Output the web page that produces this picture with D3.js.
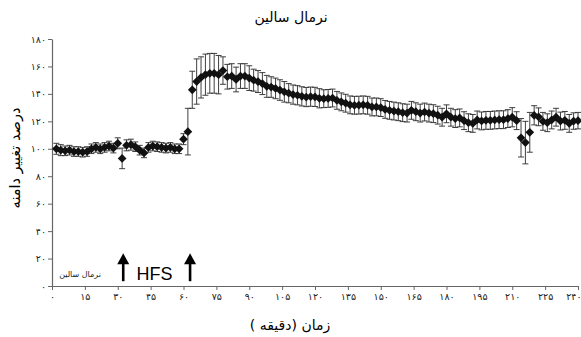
<!DOCTYPE html>
<html>
<head>
<meta charset="utf-8">
<script src="https://cdn.jsdelivr.net/npm/d3@7.9.0/dist/d3.min.js"></script>
<style>
  body { margin: 0; background: #fff; }
  svg { display: block; font-family: "DejaVu Sans", sans-serif; }
</style>
</head>
<body>
<div id="chart"></div>
<script>
// time (min) of each recording
const minutes = [2,4,6,8,10,12,14,16,18,20,22,24,26,28,30,32,34,36,38,40,
  42,44,46,48,50,52,54,56,58,60,62,64,66,68,70,72,74,76,78,80,
  82,84,86,88,90,92,94,96,98,100,102,104,106,108,110,112,114,116,118,120,
  122,124,126,128,130,132,134,136,138,140,142,144,146,148,150,152,154,156,158,160,
  162,164,166,168,170,172,174,176,178,180,182,184,186,188,190,192,194,196,198,200,
  202,204,206,208,210,212,214,216,218,220,222,224,226,228,230,232,234,236,238,240];

// % change of amplitude
const values = [100,99,98.5,99,98,98,97.5,98,100,101,
  100,101,102,100.5,104,93,102.5,103,101.5,99,
  97,101,102,101.5,101,100.5,101,100,100,
  107,112.5,143,149,152,154,155,155,154,157,
  152.5,153,150.5,153,153,151.5,150,149,147.5,145.5,
  145,144,142.8,141.5,140.5,139.5,139,138.2,137.7,138,
  137.8,136.8,136.5,136.7,137,135.3,134.2,133.2,132,131.7,
  131.8,132,131.7,130.5,130.5,130,128.7,128,127.5,127,
  126.3,126,128,127,126,126.8,126,125.6,124.5,123,
  125.5,123,122,122.5,120.5,119,118.5,121,120.3,120.7,
  120.7,121,121.2,121.2,122,123,120.5,108,104.5,112,
  124.4,123.3,120,119,121,123,120.2,120.7,118.5,120.2,120.5];

// SEM
const sem = [4,4,3.5,3.5,3.5,3.5,3.5,3.5,3.5,3.5,
  3.5,3.5,3.5,3.5,4,7.5,4,4,3.5,3.5,
  3.5,3.5,3.5,3.5,3.5,3.5,3.5,3.5,3.5,
  4,17,13.5,16.5,15,15,14.5,14.5,14,10,
  9,9,9,9,9,9,8,8,8,8,
  7.5,7.5,7.5,7.5,7,7,7,7,7,7,
  7,7,6.5,6.5,6.5,6.5,6.5,6.5,6.5,6.5,
  6.5,6.5,6.5,6.5,6.5,6.5,6.5,6.5,6.5,6.5,
  6.5,6.5,6.5,6.5,6.5,6.5,6.5,6.5,6.5,6.5,
  6.5,6.5,6.5,6.5,6.5,6.5,6.5,6.5,6.5,6.5,
  6.5,6.5,6.5,6.5,6.5,7,6.5,14,15.5,14.5,
  7,6.5,6.5,6.5,6.5,6.5,6.5,6.5,6.5,6,6];

const xTicks = [0,15,30,45,60,75,90,105,120,135,150,165,180,195,210,225,240];
const yTicks = [0,20,40,60,80,100,120,140,160,180];

const title = 'نرمال سالین';
const xLabel = 'زمان (دقیقه )';
const yLabel = 'درصد تغییر دامنه';

// HFS arrows (min) and the annotation texts
const arrowMinutes = [32.5, 63];
const arrowTip = 23.8, arrowBase = 3.5;
const hfsLabel = {text: 'HFS', minute: 38.6, value: 4.4};
const groupLabel = {text: 'نرمال سالین', minute: 12.8, value: 6.3};

const fa = d => String(d).replace(/\d/g, c => '۰۱۲۳۴۵۶۷۸۹'[c]);

const data = minutes.map((m, i) => ({m, v: values[i], e: sem[i]}));

const width = 581, height = 337;
const margin = {top: 39, right: 3, bottom: 51, left: 52};

const svg = d3.select('#chart')
  .append('svg')
  .attr('width', width)
  .attr('height', height);

const x = d3.scaleLinear()
  .domain([0, 240])
  .range([margin.left, width - margin.right]);
const y = d3.scaleLinear()
  .domain([0, 180])
  .range([height - margin.bottom, margin.top]);

// axes
const gx = svg.append('g')
  .attr('transform', `translate(0,${height - margin.bottom})`)
  .call(d3.axisBottom(x).tickValues(xTicks).tickFormat(fa)
    .tickSize(4).tickSizeOuter(0).tickPadding(3));
const gy = svg.append('g')
  .attr('transform', `translate(${margin.left},0)`)
  .call(d3.axisLeft(y).tickValues(yTicks).tickFormat(fa)
    .tickSize(4).tickSizeOuter(0).tickPadding(2));

for (const g of [gx, gy]) {
  g.select('.domain').attr('stroke', '#666').attr('stroke-width', 1.2);
  g.selectAll('.tick line').attr('stroke', '#666');
  g.selectAll('.tick text')
    .attr('fill', '#222')
    .style('font-family', '"DejaVu Sans", sans-serif')
    .style('font-size', '9.5px');
}
// keep the last x label inside the frame
gx.selectAll('.tick text')
  .filter(d => d === 240)
  .attr('text-anchor', 'end')
  .attr('dx', 3);

// error bars
const bars = svg.append('g')
  .attr('stroke', '#2a2a2a')
  .attr('stroke-width', 0.9)
  .selectAll('g')
  .data(data)
  .join('g');
bars.append('line')
  .attr('x1', d => x(d.m)).attr('x2', d => x(d.m))
  .attr('y1', d => y(d.v - d.e)).attr('y2', d => y(d.v + d.e));
bars.append('line')
  .attr('x1', d => x(d.m) - 3).attr('x2', d => x(d.m) + 3)
  .attr('y1', d => y(d.v + d.e)).attr('y2', d => y(d.v + d.e));
bars.append('line')
  .attr('x1', d => x(d.m) - 3).attr('x2', d => x(d.m) + 3)
  .attr('y1', d => y(d.v - d.e)).attr('y2', d => y(d.v - d.e));

// diamonds
svg.append('g')
  .selectAll('path')
  .data(data)
  .join('path')
    .attr('d', d3.symbol(d3.symbolSquare, 38))
    .attr('transform', d => `translate(${x(d.m)},${y(d.v)}) rotate(45)`)
    .attr('fill', '#111');

// HFS arrows
const arrows = svg.append('g')
  .selectAll('g')
  .data(arrowMinutes)
  .join('g');
arrows.append('line')
  .attr('x1', d => x(d)).attr('x2', d => x(d))
  .attr('y1', y(arrowBase)).attr('y2', y(arrowTip) + 8)
  .attr('stroke', '#000').attr('stroke-width', 2.6);
arrows.append('path')
  .attr('d', d => `M${x(d) - 6},${y(arrowTip) + 11}L${x(d)},${y(arrowTip)}L${x(d) + 6},${y(arrowTip) + 11}Z`)
  .attr('fill', '#000');

svg.append('text')
  .attr('x', x(hfsLabel.minute))
  .attr('y', y(hfsLabel.value))
  .style('font-family', '"Liberation Sans", Arial, sans-serif')
  .style('font-size', '18px')
  .attr('fill', '#000')
  .text(hfsLabel.text);

svg.append('text')
  .attr('x', x(groupLabel.minute))
  .attr('y', y(groupLabel.value))
  .attr('text-anchor', 'middle')
  .attr('direction', 'rtl')
  .style('font-size', '8px')
  .attr('fill', '#222')
  .text(groupLabel.text);

// titles
svg.append('text')
  .attr('x', 291).attr('y', 22)
  .attr('text-anchor', 'middle')
  .attr('direction', 'rtl')
  .style('font-size', '14px')
  .text(title);

svg.append('text')
  .attr('x', 290).attr('y', 330)
  .attr('text-anchor', 'middle')
  .attr('direction', 'rtl')
  .style('font-size', '14px')
  .text(xLabel);

svg.append('text')
  .attr('transform', 'translate(20,158) rotate(-90)')
  .attr('text-anchor', 'middle')
  .attr('direction', 'rtl')
  .style('font-size', '14.5px')
  .text(yLabel);
</script>
</body>
</html>
